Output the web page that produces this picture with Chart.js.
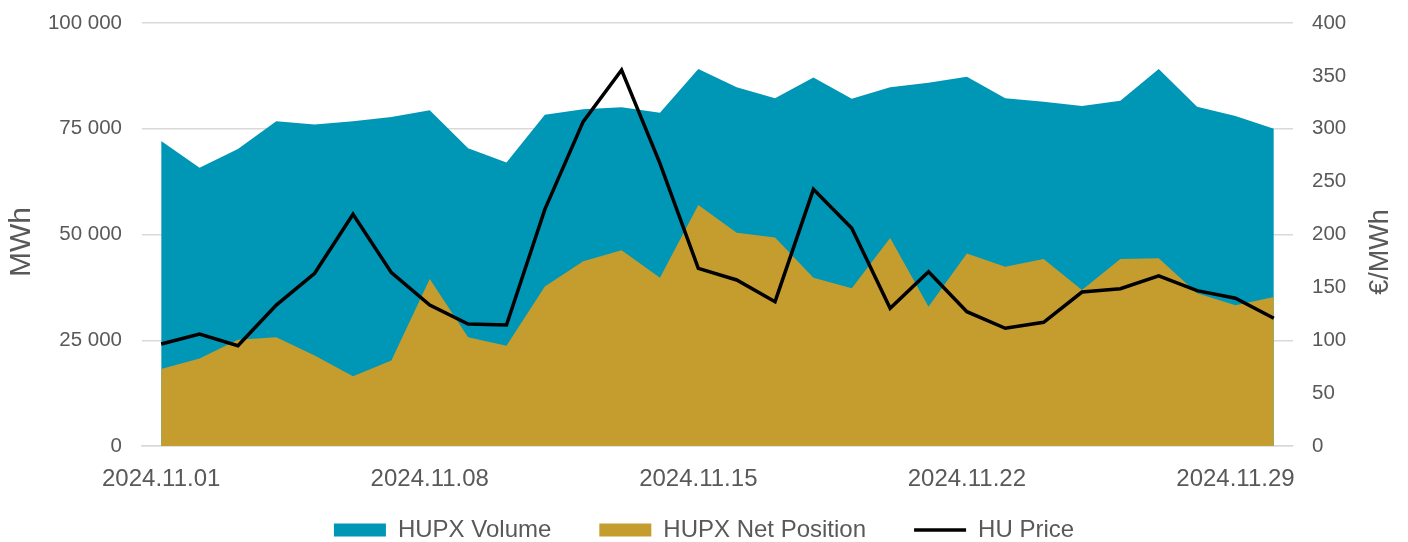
<!DOCTYPE html>
<html>
<head>
<meta charset="utf-8">
<script src="https://cdn.jsdelivr.net/npm/chart.js@4.4.1/dist/chart.umd.min.js"></script>
<style>
  html, body { margin: 0; padding: 0; background: #fff; }
  #wrap { width: 1408px; height: 542px; }
</style>
</head>
<body>
<div id="wrap"><canvas id="chart" width="1408" height="542"></canvas></div>
<script>
const days = [
  "2024.11.01", "2024.11.02", "2024.11.03", "2024.11.04", "2024.11.05",
  "2024.11.06", "2024.11.07", "2024.11.08", "2024.11.09", "2024.11.10",
  "2024.11.11", "2024.11.12", "2024.11.13", "2024.11.14", "2024.11.15",
  "2024.11.16", "2024.11.17", "2024.11.18", "2024.11.19", "2024.11.20",
  "2024.11.21", "2024.11.22", "2024.11.23", "2024.11.24", "2024.11.25",
  "2024.11.26", "2024.11.27", "2024.11.28", "2024.11.29", "2024.11.30",
];

// MWh
const hupxVolume = [
  72100, 65800, 70200, 76800, 76000, 76800, 77800, 79400, 70400, 67000,
  78300, 79600, 80100, 78800, 89100, 84800, 82200, 87100, 82100, 84800,
  85900, 87300, 82200, 81400, 80400, 81600, 89100, 80200, 78000, 75000,
];
const hupxNetPosition = [
  18200, 20700, 25100, 25700, 21400, 16500, 20200, 39500, 25700, 23700,
  37700, 43700, 46300, 39800, 57000, 50400, 49300, 39800, 37300, 49200,
  32900, 45500, 42400, 44200, 36900, 44200, 44400, 36100, 33300, 35200,
];
// €/MWh
const huPrice = [
  96.4, 105.9, 94.8, 133.3, 163.3, 219.1, 163.9, 133.3, 115.4, 114.4,
  223.8, 306.7, 355.5, 267.3, 168.0, 157.0, 136.5, 242.7, 205.9, 130.2,
  164.8, 127.0, 111.3, 117.0, 145.6, 148.7, 160.8, 146.9, 139.7, 120.8,
];

const leftTicks = [0, 25000, 50000, 75000, 100000];
const rightTicks = [0, 50, 100, 150, 200, 250, 300, 350, 400];

const TEAL = "#0096b6";
const GOLD = "#c59c2e";
const TEXT = "#595959";
const GRID = "#d9d9d9";
const FONT = "'Liberation Sans', Arial, sans-serif";

// thousands with a space: 100 000
const fmt = (v) => String(v).replace(/\B(?=(\d{3})+(?!\d))/g, " ");

// axis titles (both read bottom-to-top) + legend nudged up a bit
const extras = {
  id: "extras",
  beforeDraw(chart) {
    const lg = chart.legend;
    lg.top = 470;
    lg.bottom = chart.height;
  },
  afterDraw(chart) {
    const { ctx } = chart;
    const title = (text, x, y, size) => {
      ctx.save();
      ctx.translate(x, y);
      ctx.rotate(-Math.PI / 2);
      ctx.font = size + "px " + FONT;
      ctx.fillStyle = TEXT;
      ctx.textAlign = "center";
      ctx.textBaseline = "middle";
      ctx.fillText(text, 0, 0);
      ctx.restore();
    };
    title("MWh", 22, 242, 30);
    title("€/MWh", 1381, 252, 27);
  },
};

new Chart(document.getElementById("chart"), {
  type: "line",
  data: {
    labels: days,
    datasets: [
      {
        label: "HUPX Volume",
        data: hupxVolume,
        yAxisID: "y",
        fill: "origin",
        backgroundColor: TEAL,
        borderColor: TEAL,
        borderWidth: 0,
        pointRadius: 0,
        pointStyle: "rect",
        tension: 0,
        order: 3,
      },
      {
        label: "HUPX Net Position",
        data: hupxNetPosition,
        yAxisID: "y",
        fill: "origin",
        backgroundColor: GOLD,
        borderColor: GOLD,
        borderWidth: 0,
        pointRadius: 0,
        pointStyle: "rect",
        tension: 0,
        order: 2,
      },
      {
        label: "HU Price",
        data: huPrice,
        yAxisID: "y1",
        fill: false,
        backgroundColor: "#000",
        borderColor: "#000",
        borderWidth: 3.5,
        pointRadius: 0,
        pointStyle: "line",
        tension: 0,
        order: 1,
      },
    ],
  },
  options: {
    responsive: false,
    animation: false,
    layout: { padding: { top: 23, left: 0, right: 0, bottom: 0 } },
    plugins: {
      tooltip: { enabled: false },
      legend: {
        position: "bottom",
        maxHeight: 50,
        labels: {
          usePointStyle: true,
          pointStyleWidth: 52,
          boxHeight: 13,
          padding: 48,
          color: TEXT,
          font: { family: FONT, size: 24 },
          sort: (a, b) => a.datasetIndex - b.datasetIndex,
        },
      },
    },
    scales: {
      x: {
        offset: true,
        afterFit: (s) => { s.height = 46; },
        border: { display: true, color: GRID, width: 1.5 },
        grid: {
          offset: true,
          drawOnChartArea: false,
          drawTicks: true,
          tickLength: 7,
          lineWidth: 1.5,
          color: (c) => (c.index % 7 === 0 ? GRID : "transparent"),
        },
        ticks: {
          autoSkip: false,
          maxRotation: 0,
          padding: 12,
          color: TEXT,
          font: { family: FONT, size: 24 },
          callback: (v, i) => (i % 7 === 0 ? days[i] : null),
        },
      },
      y: {
        position: "left",
        min: 0,
        max: 100000,
        afterFit: (s) => { s.width = 142; },
        afterBuildTicks: (s) => { s.ticks = leftTicks.map((v) => ({ value: v })); },
        border: { display: false },
        grid: { color: GRID, lineWidth: 1.5, drawTicks: true, tickLength: 18, tickColor: "transparent" },
        ticks: {
          padding: 2,
          color: TEXT,
          font: { family: FONT, size: 20.5 },
          callback: (v) => fmt(v),
        },
      },
      y1: {
        position: "right",
        min: 0,
        max: 400,
        afterFit: (s) => { s.width = 115; },
        afterBuildTicks: (s) => { s.ticks = rightTicks.map((v) => ({ value: v })); },
        border: { display: false },
        grid: { drawOnChartArea: false, drawTicks: true, tickLength: 17, tickColor: "transparent" },
        ticks: {
          padding: 2,
          color: TEXT,
          font: { family: FONT, size: 20.5 },
        },
      },
    },
  },
  plugins: [extras],
});
</script>
</body>
</html>
